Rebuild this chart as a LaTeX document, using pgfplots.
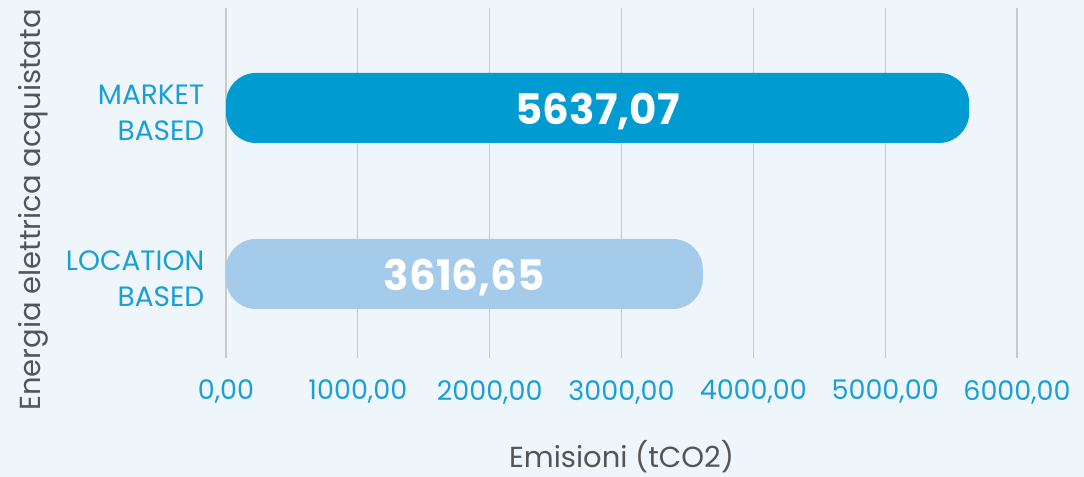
\documentclass[border=0pt]{standalone}
\usepackage{pgfplots}
\pgfplotsset{compat=1.18}
\usepackage{fontspec}
\setmainfont{Poppins}
\definecolor{bg}{HTML}{EEF5FB}
\definecolor{txtblue}{HTML}{1AA0D6}
\definecolor{bardark}{HTML}{009BD0}
\definecolor{barlight}{HTML}{A5CBEA}
\definecolor{gridc}{HTML}{C9C9C9}
\definecolor{lblgray}{HTML}{555555}
\begin{document}
\begin{tikzpicture}
\fill[bg] (0,0) rectangle (1084bp,477bp);
\begin{axis}[
  at={(226bp,119bp)}, anchor=south west,
  scale only axis, width=791bp, height=350bp,
  xmin=0, xmax=6000, ymin=-0.506, ymax=1.602,
  axis line style={draw=none},
  tick style={draw=none},
  xmajorgrids, grid style={gridc, line width=1.3bp},
  xtick={0,1000,2000,3000,4000,5000,6000},
  ytick={0,1},
  yticklabels={{LOCATION\\BASED},{MARKET\\BASED}},
  yticklabel style={align=right, font=\fontsize{28bp}{36bp}\selectfont, text=txtblue, xshift=-14bp, yshift=-5bp},
  xticklabel style={anchor=center, yshift=-34bp, font=\fontsize{27bp}{30bp}\selectfont, text=txtblue,
    /pgf/number format/.cd, fixed, fixed zerofill, precision=2, use comma, 1000 sep={}, assume math mode=true},
  xlabel={Emisioni (tCO2)},
  xlabel style={at={(axis description cs:0.5,0)}, anchor=center, yshift=-99bp, font=\fontsize{29bp}{32bp}\selectfont, text=lblgray},
  ylabel={Energia elettrica acquistata},
  ylabel style={at={(axis description cs:0,0.423)}, anchor=center, yshift=193bp, font=\fontsize{29bp}{32bp}\selectfont, text=lblgray},
  xbar, bar shift=0pt, bar width=70bp,
  clip=false,
]
\addplot[fill=bardark, draw=none, rounded corners=30bp] coordinates {(5637.07,1)};
\addplot[fill=barlight, draw=none, rounded corners=30bp] coordinates {(3616.65,0)};
\addplot[draw=none, mark=none, xbar=false, nodes near coords, point meta=explicit symbolic,
  every node near coord/.append style={anchor=center, yshift=-4bp, text=white, font=\fontsize{42bp}{44bp}\selectfont\bfseries}]
  coordinates {(2818.535,1) [5637,07] (1808.325,0) [3616,65]};
\end{axis}
\end{tikzpicture}
\end{document}
